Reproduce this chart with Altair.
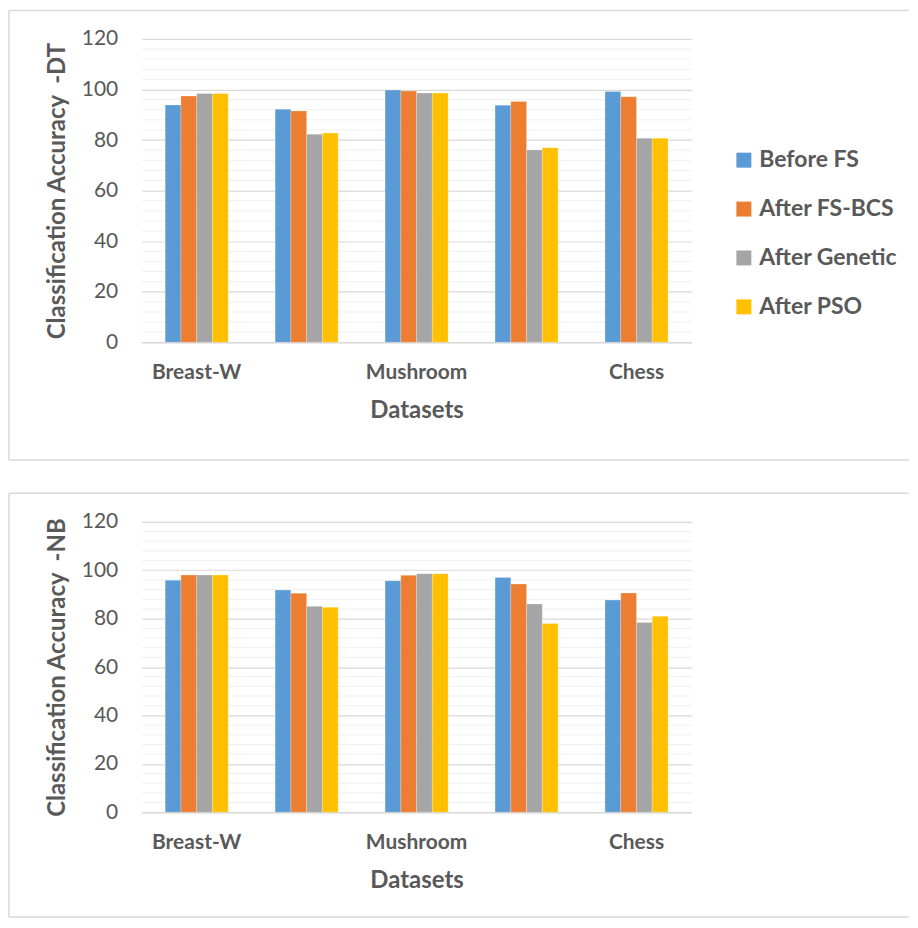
import altair as alt
import pandas as pd

datasets = ["Breast-W", "Dataset 2", "Mushroom", "Dataset 4", "Chess"]
shown_labels = ["Breast-W", "Mushroom", "Chess"]
methods = ["Before FS", "After FS-BCS", "After Genetic", "After PSO"]
colors = ["#5B9BD5", "#ED7D31", "#A5A5A5", "#FFC000"]

dt_before = [93.9, 92.2, 99.8, 93.8, 99.2]
dt_bcs = [97.4, 91.5, 99.4, 95.3, 97.1]
dt_genetic = [98.4, 82.3, 98.6, 76.1, 80.7]
dt_pso = [98.4, 82.8, 98.6, 77.0, 80.7]

nb_before = [95.9, 91.8, 95.7, 97.0, 87.7]
nb_bcs = [98.0, 90.5, 97.9, 94.3, 90.6]
nb_genetic = [98.0, 85.1, 98.6, 86.1, 78.4]
nb_pso = [98.0, 84.7, 98.6, 78.0, 81.0]

y_ticks = [0, 20, 40, 60, 80, 100, 120]

FONT = "Lato"
TXT = "#595959"


def table(series):
    rows = []
    for m, vals in zip(methods, series):
        for d, v in zip(datasets, vals):
            rows.append({"Dataset": d, "Method": m, "Accuracy": v})
    return pd.DataFrame(rows)


def panel(series, ytitle, h, box_bottom):
    W = 551
    df = table(series)
    yscale = alt.Scale(domain=[0, 120], nice=False, zero=True)
    yaxis = alt.Axis(
        values=y_ticks,
        title=ytitle,
        domain=False,
        ticks=False,
        tickSize=0,
        labelPadding=24,
        titlePadding=12,
        grid=True,
        gridColor="#d9d9d9",
        gridWidth=1.2,
    )

    minor = alt.Chart(alt.sequence(0, 124, 4, as_="v")).transform_filter(
        "datum.v % 20 != 0"
    ).mark_rule(color="#f0f0f0", strokeWidth=1).encode(
        y=alt.Y("v:Q", scale=yscale, axis=yaxis)
    )

    bars = alt.Chart(df).mark_bar(stroke="white", strokeWidth=0.4, strokeOpacity=0.6).encode(
        x=alt.X(
            "Dataset:N",
            sort=datasets,
            scale=alt.Scale(paddingInner=0.427, paddingOuter=0.2135),
            axis=alt.Axis(
                values=shown_labels,
                title="Datasets",
                labelAngle=0,
                ticks=False,
                tickSize=0,
                labelPadding=19,
                titlePadding=16,
                domainColor="#d9d9d9",
                domainWidth=1.5,
                grid=False,
            ),
        ),
        xOffset=alt.XOffset("Method:N", sort=methods),
        y=alt.Y("Accuracy:Q", scale=yscale, axis=yaxis),
        color=alt.Color(
            "Method:N",
            sort=methods,
            scale=alt.Scale(domain=methods, range=colors),
            legend=alt.Legend(
                title=None,
                orient="none",
                legendX=592,
                legendY=110,
                symbolType="square",
                symbolSize=225,
                symbolStrokeWidth=0,
                labelFontSize=23,
                labelFontWeight="bold",
                labelFont=FONT,
                labelColor=TXT,
                rowPadding=25,
                labelOffset=4,
            ),
        ),
    )

    one = alt.Data(values=[{"a": 1}])
    box_color = "#d9d9d9"
    top = alt.Chart(one).mark_rule(color=box_color, strokeWidth=1.5).encode(
        x=alt.value(-133), x2=alt.value(769), y=alt.value(-28.6)
    )
    left = alt.Chart(one).mark_rule(color=box_color, strokeWidth=1.5).encode(
        x=alt.value(-133), y=alt.value(-28.6), y2=alt.value(box_bottom)
    )
    bottom = alt.Chart(one).mark_rule(color=box_color, strokeWidth=1.5).encode(
        x=alt.value(-133), x2=alt.value(769), y=alt.value(box_bottom)
    )

    return alt.layer(minor, bars, top, left, bottom).properties(width=W, height=h)


p1 = panel([dt_before, dt_bcs, dt_genetic, dt_pso], "Classification Accuracy\u00a0\u00a0-DT", 304, 422)
p2 = panel([nb_before, nb_bcs, nb_genetic, nb_pso], "Classification Accuracy\u00a0\u00a0-NB", 291, 396)

chart = alt.vconcat(p1, p2, spacing=31).properties(padding=0).configure_view(
    stroke=None
).configure_axis(
    labelFont=FONT,
    titleFont=FONT,
    labelColor=TXT,
    titleColor=TXT,
    labelFontSize=21,
    titleFontSize=24,
    titleFontWeight="bold",
).configure_axisX(
    labelFontSize=21, labelFontWeight="bold"
).configure_axisY(
    titleFontSize=24
)

chart.save("out.html", embed_options={"renderer": "svg", "actions": False})
